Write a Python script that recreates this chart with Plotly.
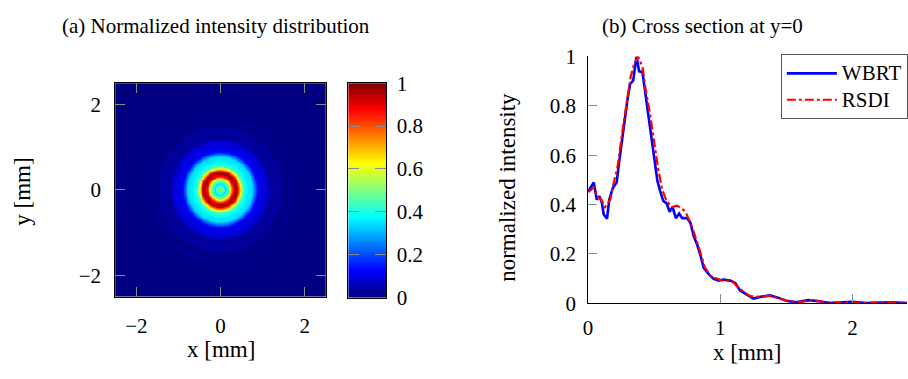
import numpy as np
import plotly.graph_objects as go

# ---- y = 0 cross section of the normalized intensity ----
x_wbrt = [0, 0.043, 0.065, 0.085, 0.103, 0.118, 0.143, 0.16, 0.186, 0.216, 0.235, 0.253,
          0.273, 0.298, 0.318, 0.341, 0.366, 0.386, 0.411, 0.436, 0.461, 0.481, 0.504,
          0.524, 0.549, 0.569, 0.594, 0.617, 0.639, 0.664, 0.689, 0.712, 0.75, 0.774, 0.8,
          0.825, 0.85, 0.875, 0.912, 0.95, 0.987, 1.025, 1.075, 1.113, 1.15, 1.2, 1.25,
          1.313, 1.376, 1.438, 1.5, 1.576, 1.664, 1.739, 1.827, 1.927, 2.0, 2.1, 2.2, 2.3, 2.41]
wbrt = [0.453, 0.49, 0.42, 0.434, 0.41, 0.36, 0.343, 0.42, 0.466, 0.49, 0.573, 0.649,
        0.737, 0.826, 0.889, 0.902, 1.0, 0.94, 0.937, 0.839, 0.75, 0.66, 0.56,
        0.497, 0.447, 0.415, 0.405, 0.371, 0.39, 0.345, 0.364, 0.345, 0.345, 0.326, 0.27,
        0.238, 0.194, 0.143, 0.118, 0.099, 0.092, 0.096, 0.092, 0.082, 0.052, 0.035, 0.019,
        0.027, 0.032, 0.023, 0.01, 0.004, 0.013, 0.009, 0.001, 0.004, 0.006, 0.001, 0.004, 0.004, 0.001]

x_rsdi = [0, 0.043, 0.07, 0.1, 0.128, 0.168, 0.19, 0.223, 0.26, 0.298, 0.323, 0.348, 0.378,
          0.411, 0.436, 0.466, 0.504, 0.529, 0.561, 0.594, 0.632, 0.674, 0.705, 0.737, 0.774,
          0.8, 0.85, 0.88, 0.925, 1.0, 1.085, 1.15, 1.225, 1.3, 1.38, 1.45, 1.52, 1.6, 1.7,
          1.8, 1.9, 2.0, 2.1, 2.2, 2.3, 2.41]
rsdi = [0.45, 0.47, 0.43, 0.42, 0.39, 0.42, 0.48, 0.554, 0.70, 0.84, 0.92, 0.97, 1.0,
        0.959, 0.864, 0.775, 0.636, 0.548, 0.459, 0.415, 0.39, 0.396, 0.385, 0.371, 0.326,
        0.288, 0.206, 0.15, 0.11, 0.095, 0.092, 0.057, 0.029, 0.026, 0.03, 0.02, 0.008, 0.006, 0.012,
        0.004, 0.003, 0.005, 0.002, 0.004, 0.003, 0.002]

series_names = ["WBRT", "RSDI"]
img_ticks = [-2, 0, 2]
cb_ticks = [0, 0.2, 0.4, 0.6, 0.8, 1]
cb_ticktext = ["0", "0.2", "0.4", "0.6", "0.8", "1"]
prof_xticks = [0, 1, 2]
prof_yticks = [0, 0.2, 0.4, 0.6, 0.8, 1]
prof_yticktext = ["0", "0.2", "0.4", "0.6", "0.8", "1"]

# ---- 2D distribution: rotationally symmetric map built from the WBRT radial profile ----
grid = np.linspace(-2.5, 2.5, 241)
gx, gy = np.meshgrid(grid, grid)
radius = np.hypot(gx, gy)
intensity = np.interp(radius, x_wbrt, wbrt, right=0.0)

jet = [[0.0, "rgb(0,0,128)"], [0.125, "rgb(0,0,255)"], [0.375, "rgb(0,255,255)"],
       [0.625, "rgb(255,255,0)"], [0.875, "rgb(255,0,0)"], [1.0, "rgb(128,0,0)"]]
cb_levels = np.linspace(0, 1, 256)

W, H = 908, 379
def px(v):
    return v / W
def py(v):
    return 1 - v / H

FONT = "Liberation Serif, Times New Roman, serif"
TICK_GREY = "#8a8a8a"

def legend_label(name):
    # larger glyphs inside a compact legend row
    return f'<span style="font-size:21px">{name}</span>'

fig = go.Figure()

fig.add_trace(go.Heatmap(x=grid, y=grid, z=intensity, colorscale=jet, zmin=0, zmax=1,
                         showscale=False, xaxis="x", yaxis="y", hoverinfo="skip"))

fig.add_trace(go.Heatmap(x=[0], y=cb_levels, z=[[v] for v in cb_levels], colorscale=jet,
                         zmin=0, zmax=1, showscale=False, xaxis="x3", yaxis="y3",
                         hoverinfo="skip"))

fig.add_trace(go.Scatter(x=x_wbrt, y=wbrt, mode="lines", name=legend_label(series_names[0]),
                         line=dict(color="#0000ff", width=2.6),
                         xaxis="x2", yaxis="y2", cliponaxis=False))
fig.add_trace(go.Scatter(x=x_rsdi, y=rsdi, mode="lines", name=legend_label(series_names[1]),
                         line=dict(color="#ff0000", width=2.2, dash="dashdot"),
                         xaxis="x2", yaxis="y2", cliponaxis=False))

def tickfont():
    return dict(family=FONT, size=21, color="black")

def common():
    return dict(showgrid=False, zeroline=False, showline=True, linecolor="black",
                linewidth=1, ticks="inside", tickcolor=TICK_GREY, tickwidth=1,
                tickfont=tickfont())

fig.update_layout(
    width=W, height=H,
    margin=dict(l=0, r=0, t=0, b=0),
    paper_bgcolor="white", plot_bgcolor="white",
    font=dict(family=FONT, color="black", size=21),
    xaxis=dict(domain=[px(111), px(323)], range=[-2.5, 2.5], tickvals=img_ticks,
               ticklen=10, mirror="ticks", ticklabelstandoff=10, **common()),
    yaxis=dict(domain=[py(304), py(76)], range=[-2.5, 2.5], tickvals=img_ticks,
               ticklen=10, mirror="ticks", ticklabelstandoff=9, **common()),
    xaxis3=dict(domain=[px(345.5), px(384)], range=[-0.5, 0.5], showticklabels=False,
                showgrid=False, zeroline=False, showline=True, mirror=True,
                linecolor="black", linewidth=1, ticks="", anchor="y3"),
    yaxis3=dict(domain=[py(305), py(76)], range=[0, 1], side="right", anchor="x3",
                tickvals=cb_ticks, ticktext=cb_ticktext, ticklen=11, mirror="ticks",
                ticklabelstandoff=5, **common()),
    xaxis2=dict(domain=[px(587), 1.0], range=[0, 2.413], tickvals=prof_xticks,
                ticklen=9, anchor="y2", ticklabelstandoff=5, **common()),
    yaxis2=dict(domain=[py(311), py(47.5)], range=[0, 1], tickvals=prof_yticks,
                ticktext=prof_yticktext, ticklen=9, anchor="x2", ticklabelstandoff=7,
                **common()),
    legend=dict(x=px(781), y=py(45), xanchor="left", yanchor="top",
                bordercolor="#555555", borderwidth=1, bgcolor="white", itemwidth=50,
                font=dict(family=FONT, size=18, color="black"), tracegroupgap=0),
    showlegend=True,
)

labels = [
    dict(text="(a) Normalized intensity distribution", x=px(212), y=py(15), size=21, angle=0),
    dict(text="(b) Cross section at y=0", x=px(702), y=py(15), size=21, angle=0),
    dict(text="y [mm]", x=px(18), y=py(192), size=23, angle=-90),
    dict(text="x [mm]", x=px(217), y=py(360), size=23, angle=0),
    dict(text="normalized intensity", x=px(506), y=py(187), size=23, angle=-90),
    dict(text="x [mm]", x=px(747), y=py(364), size=23, angle=0),
]
for lb in labels:
    fig.add_annotation(text=lb["text"], x=lb["x"], y=lb["y"], xref="paper", yref="paper",
                       xanchor="center", yanchor="middle", showarrow=False,
                       textangle=lb["angle"],
                       font=dict(family=FONT, size=lb["size"], color="black"))

fig.write_html("out.html")
